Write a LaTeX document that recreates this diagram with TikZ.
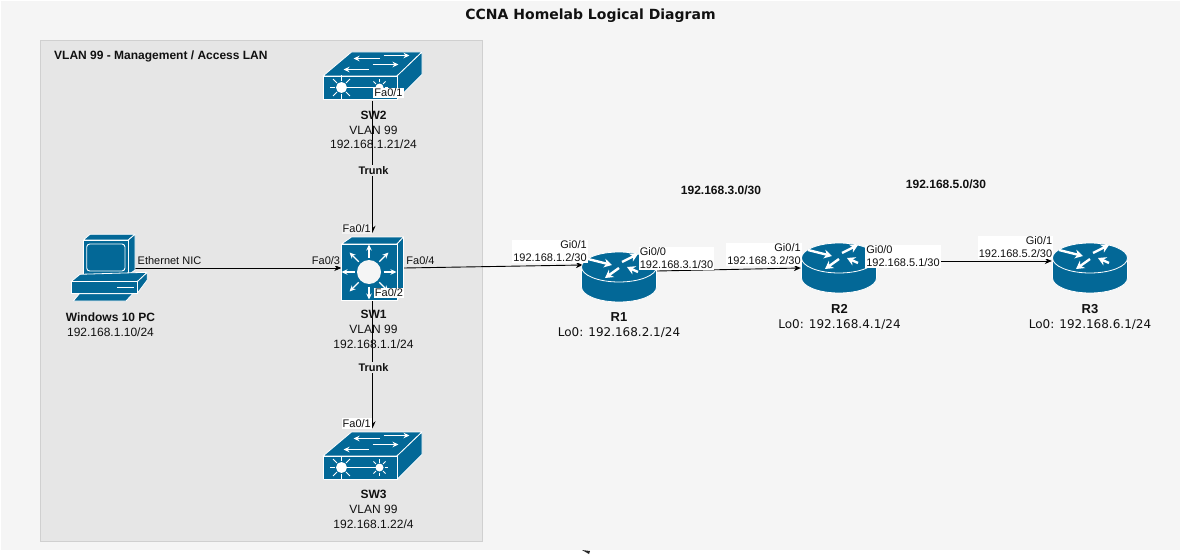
\documentclass[tikz,border=0pt]{standalone}
\usepackage{fontspec}
\setmainfont{Liberation Sans}
\newfontfamily\wideface{DejaVu Sans}
\usetikzlibrary{arrows.meta}
\definecolor{pagebg}{HTML}{F5F5F5}
\definecolor{groupbg}{HTML}{E6E6E6}
\definecolor{groupline}{HTML}{D0D0D0}
\definecolor{ciscoblue}{HTML}{036897}
\definecolor{inktext}{HTML}{111111}
\tikzset{
  iconbox/.style={inner sep=0pt, minimum width=#1, minimum height=50pt},
  devtext/.style={align=center, text=inktext, inner sep=0pt, font=\fontsize{12}{14.7}\selectfont},
  lotext/.style={align=center, text=inktext, inner sep=0pt, font=\fontsize{12}{15}\selectfont},
  nettext/.style={text=inktext, inner sep=0pt, font=\fontsize{12}{14}\selectfont\bfseries},
  portbox/.style={fill=white, inner sep=1pt, text=inktext, font=\fontsize{11}{13}\selectfont},
  portbare/.style={portbox, fill=groupbg},
  link/.style={draw=black, line width=0.9pt, -{Stealth[length=7pt,width=6pt]}},
  facet/.style={fill=ciscoblue, draw=white, line width=0.8pt, line join=round},
  glyph/.style={draw=white, line width=2.4pt, -{Stealth[length=8pt,width=9pt]}},
  thinglyph/.style={draw=white, line width=1.2pt, -{Stealth[length=6pt,width=5.5pt]}},
  ray/.style={draw=white, line width=1pt},
  switchicon/.pic={
    \path[facet] (-49.5,0.5) -- (-21,-23.5) -- (49.5,-23.5) -- (24.5,0.5) -- cycle;
    \path[facet] (24.5,0.5) -- (49.5,-23.5) -- (49.5,-1) -- (24.5,24) -- cycle;
    \path[facet] (-49.5,0.5) rectangle (24.5,24);
    \draw[thinglyph] (7,-17) -- (-19,-17);
    \draw[thinglyph] (11,-20) -- (37,-20);
    \draw[thinglyph] (0,-11) -- (26,-11);
    \draw[thinglyph] (-4,-6) -- (-29,-6);
    \draw[white, line width=1.8pt] (-31,12) -- (7,12);
    \fill[white] (-31,12) circle (5.5pt);
    \fill[white] (7,12) circle (4pt);
    \foreach \a in {0,45,...,315} {
      \draw[ray] (-31,12) ++(\a:6.5pt) -- ++(\a:5.5pt);
      \draw[ray] (7,12) ++(\a:5pt) -- ++(\a:3.5pt);
    }
  },
  coreicon/.pic={
    \path[facet] (-31,-24) -- (-21,-31) -- (31,-31) -- (24.5,-24) -- cycle;
    \path[facet] (24.5,-24) -- (31,-31) -- (31,25) -- (24.5,32) -- cycle;
    \path[facet] (-31,-24) rectangle (24.5,32);
    \fill[pagebg] (-3.5,4) circle (12pt);
    \foreach \a in {0,45,...,315} {
      \draw[thinglyph] (-3.5,4) ++(\a:14.5pt) -- ++(\a:13pt);
    }
  },
  routericon/.pic={
    \path[facet] (-37.5,-10) -- (-37.5,10) arc[start angle=180, end angle=0, x radius=37.5, y radius=15]
      -- (37.5,-10) -- cycle;
    \path[facet] (0,-10) ellipse [x radius=37.5, y radius=15];
    \draw[glyph] (-31,-18) -- (-7,-12);
    \draw[glyph] (19,-5) -- (8,-10);
    \draw[glyph] (3,-15) -- (19,-23);
    \draw[glyph] (0,-9) -- (-14,1);
  },
  pcicon/.pic={
    \path[facet] (-26.7,-28) -- (-20,-33.7) -- (25,-33.7) -- (18.3,-28) -- cycle;
    \path[facet] (18.3,-28) -- (25,-33.7) -- (25,2) -- (18.3,7) -- cycle;
    \path[facet] (-26.7,-28) rectangle (18.3,7);
    \draw[white, line width=0.9pt, rounded corners=3pt] (-23.3,-24) rectangle (15,3);
    \path[facet] (-39,13.7) -- (-30,6.3) -- (37.3,4.3) -- (27.3,13.7) -- cycle;
    \path[facet] (27.3,13.7) -- (37.3,4.3) -- (37.3,12) -- (27.3,25.3) -- cycle;
    \path[facet] (-39,13.7) rectangle (27.3,25.3);
    \fill[white] (6.7,18.7) rectangle (24,20.3);
    \path[facet] (-36.7,33) -- (-30.7,25.8) -- (22.7,25.8) -- (16,33) -- cycle;
  }
}
\begin{document}
\begin{tikzpicture}[x=1pt, y=-1pt]
\useasboundingbox (0,0) rectangle (1180,559);
\fill[pagebg] (1,1) rectangle (1180,550);
\node[draw=groupline, fill=groupbg, line width=0.8pt, inner sep=0pt, minimum width=442pt, minimum height=501pt] (vlangroup) at (261,290.5) {};

% title and free labels
\node[inner sep=0pt, text=inktext, font=\wideface\fontsize{14}{16}\selectfont\bfseries] (title) at (590.5,16) {CCNA Homelab Logical Diagram};
\node[nettext, anchor=west] (grouptitle) at (54,56) {VLAN 99 - Management / Access LAN};
\node[nettext] (net3) at (721,190.5) {192.168.3.0/30};
\node[nettext] (net5) at (946,184.5) {192.168.5.0/30};

% devices, the icons go on after the links
\node[iconbox=50pt] (PC) at (110,268) {};
\node[iconbox=62pt, minimum height=64pt] (SW1) at (372.5,268) {};
\node[iconbox=74pt] (SW2) at (372.5,75.5) {};
\node[iconbox=74pt, minimum height=48pt] (SW3) at (372.5,455.5) {};
\node[iconbox=76pt] (R1) at (619,277) {};
\node[iconbox=76pt] (R2) at (839,268) {};
\node[iconbox=76pt] (R3) at (1090,268) {};

\draw[link] (PC.east) -- (SW1.west);
\draw[link, shorten >=3pt] (SW2.south) -- (SW1.north);
\draw[link, shorten >=3pt] (SW1.south) -- (SW3.north);
\draw[link] (SW1.east) -- ([xshift=2pt,yshift=12pt]R1.west);
\draw[link] ([yshift=6pt]R1.east) -- (R2.west);
\draw[link] ([yshift=7pt]R2.east) -- ([yshift=7pt]R3.west);

\pic at (SW2) {switchicon};
\pic at (SW3) {switchicon};
\pic at (SW1) {coreicon};
\pic at (PC) {pcicon};
\pic at (R1) {routericon};
\pic at (R2) {routericon};
\pic at (R3) {routericon};
\fill[black!85] (582,550) -- (590,551) -- (589,554) -- cycle;

% device texts
\node[devtext] (SW2text) at (373.5,130) {\textbf{SW2}\\VLAN 99\\192.168.1.21/24};
\node[devtext] (SW1text) at (373.5,329.5) {\textbf{SW1}\\VLAN 99\\192.168.1.1/24};
\node[devtext] (SW3text) at (373.5,509.5) {\textbf{SW3}\\VLAN 99\\192.168.1.22/4};
\node[devtext] (PCtext) at (110.5,325) {\textbf{Windows 10 PC}\\192.168.1.10/24};
\node[lotext] (R1text) at (619,325) {\textbf{\fontsize{13}{15}\selectfont R1}\\{\wideface Lo0: 192.168.2.1/24}};
\node[lotext] (R2text) at (839.5,317) {\textbf{\fontsize{13}{15}\selectfont R2}\\{\wideface Lo0: 192.168.4.1/24}};
\node[lotext] (R3text) at (1090,317) {\textbf{\fontsize{13}{15}\selectfont R3}\\{\wideface Lo0: 192.168.6.1/24}};

% port labels
\node[portbare, font=\fontsize{11}{13}\selectfont\bfseries] (trunkup) at (373.5,170.5) {Trunk};
\node[portbare, font=\fontsize{11}{13}\selectfont\bfseries] (trunkdown) at (373.5,367.5) {Trunk};
\node[portbare] (nic) at (169.5,261) {Ethernet NIC};
\node[portbox] (sw2fa1) at (388.5,93) {Fa0/1};
\node[portbox, fill=groupbg!50!white, anchor=east] (sw1fa1) at (372,229) {Fa0/1};
\node[portbox, anchor=east] (sw3fa1) at (372,423.5) {Fa0/1};
\node[portbare] (sw1fa3) at (326,261) {Fa0/3};
\node[portbare] (sw1fa4) at (420.5,260.5) {Fa0/4};
\node[portbox] (sw1fa2) at (389,293) {Fa0/2};
\node[portbox, align=right] (r1gi1) at (550,251.5) {Gi0/1\\192.168.1.2/30};
\node[portbox, align=left] (r1gi0) at (676.5,258.5) {Gi0/0\\192.168.3.1/30};
\node[portbox, align=right] (r2gi1) at (764,254.5) {Gi0/1\\192.168.3.2/30};
\node[portbox, align=left] (r2gi0) at (903,256.5) {Gi0/0\\192.168.5.1/30};
\node[portbox, align=right] (r3gi1) at (1015.5,247.5) {Gi0/1\\192.168.5.2/30};
\end{tikzpicture}
\end{document}
